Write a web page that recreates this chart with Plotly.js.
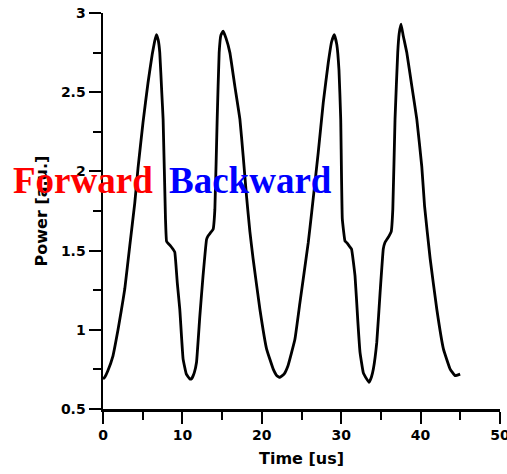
<!DOCTYPE html>
<html>
<head>
<meta charset="utf-8">
<script src="https://cdn.plot.ly/plotly-3.0.1.min.js"></script>
<style>
  html, body { margin: 0; padding: 0; background: #fff; }
  #chart { width: 507px; height: 474px; overflow: hidden; }
</style>
</head>
<body>
<div id="chart"></div>
<script>
// Measured optical power trace over time
const timeUs = [
  0, 0.21, 0.6, 1.26, 1.89, 2.3, 2.74, 3.37, 4.0, 4.41, 5.04, 5.67, 6.2, 6.5, 6.73, 6.95,
  7.15, 7.4, 7.57, 7.87, 8.0, 8.2, 8.5, 8.8, 9.04, 9.35, 9.67, 10.09, 10.5, 10.93, 11.15,
  11.5, 11.78, 12.2, 12.6, 13.04, 13.2, 13.5, 13.87, 14.09, 14.38, 14.63, 14.85, 15.13,
  15.5, 15.98, 16.6, 17.24, 17.65, 18.08, 18.5, 18.9, 19.76, 20.6, 21.44, 21.9, 22.28, 22.8,
  23.3, 24.17, 24.8, 25.85, 26.28, 27.11, 27.74, 28.37, 28.8, 29.13, 29.45, 29.72, 29.94,
  30.14, 30.48, 30.7, 31.0, 31.3, 31.74, 32.1, 32.37, 32.78, 33.2, 33.5, 33.8, 34.05,
  34.48, 34.9, 35.3, 35.5, 36.0, 36.3, 36.5, 36.78, 37.12, 37.3, 37.54, 37.8, 38.26,
  38.89, 39.52, 40.15, 40.5, 41.2, 42.04, 42.88, 43.72, 44.35, 44.98
];
const powerAu = [
  0.69, 0.70, 0.74, 0.836, 1.0, 1.12, 1.257, 1.53, 1.80, 2.02, 2.31, 2.56, 2.74, 2.82, 2.864, 2.83,
  2.75, 2.5, 2.33, 1.70, 1.56, 1.545, 1.53, 1.51, 1.49, 1.30, 1.13, 0.815, 0.72, 0.69, 0.69,
  0.73, 0.795, 1.09, 1.34, 1.57, 1.59, 1.61, 1.635, 1.76, 2.33, 2.75, 2.86, 2.885,
  2.84, 2.75, 2.54, 2.33, 2.10, 1.84, 1.62, 1.45, 1.13, 0.88, 0.752, 0.71, 0.70, 0.72,
  0.773, 0.94, 1.17, 1.55, 1.74, 2.12, 2.434, 2.686, 2.82, 2.864, 2.80, 2.64, 2.33,
  1.70, 1.56, 1.55, 1.53, 1.51, 1.34, 1.05, 0.857, 0.73, 0.69, 0.668, 0.70, 0.752,
  0.92, 1.236, 1.51, 1.55, 1.59, 1.62, 1.76, 2.33, 2.75, 2.87, 2.93, 2.86, 2.75,
  2.54, 2.33, 2.03, 1.78, 1.45, 1.13, 0.878, 0.752, 0.71, 0.72
];

const xTickVals = [0, 10, 20, 30, 40, 50];
const yTickVals = [0.5, 1, 1.5, 2, 2.5, 3];
const yTickText = ['0.5', '1', '1.5', '2', '2.5', '3'];

const xTitle = 'Time [us]';
const yTitle = 'Power [a.u.]';
const forwardLabel = 'Forward';
const backwardLabel = 'Backward';

const tickFont = { family: 'DejaVu Sans, Arial, sans-serif', size: 14, color: '#000', weight: 'bold' };
const titleFont = { family: 'DejaVu Sans, Arial, sans-serif', size: 16, color: '#000', weight: 'bold' };
const tagFont = { family: 'Liberation Serif, Times New Roman, serif', size: 37, weight: 'bold' };

const trace = {
  x: timeUs,
  y: powerAu,
  type: 'scatter',
  mode: 'lines',
  line: { color: '#000', width: 2.8, shape: 'spline', smoothing: 0.3 },
  hoverinfo: 'skip'
};

const axisCommon = {
  showline: true,
  linecolor: '#000',
  linewidth: 2.5,
  ticks: 'outside',
  ticklen: 12,
  tickwidth: 2,
  tickcolor: '#000',
  showgrid: false,
  zeroline: false,
  mirror: false,
  ticklabeloverflow: 'allow',
  tickfont: tickFont
};

const layout = {
  width: 507,
  height: 474,
  margin: { l: 103, r: 7, t: 13, b: 65 },
  paper_bgcolor: '#fff',
  plot_bgcolor: '#fff',
  showlegend: false,
  xaxis: Object.assign({}, axisCommon, {
    range: [0, 50],
    tickvals: xTickVals,
    minor: { tickvals: [5, 15, 25, 35, 45], ticks: 'outside', ticklen: 8, tickwidth: 2, tickcolor: '#000' },
    title: { text: xTitle, font: titleFont, standoff: 11 }
  }),
  yaxis: Object.assign({}, axisCommon, {
    range: [0.5, 3],
    tickvals: yTickVals,
    ticktext: yTickText,
    minor: { tickvals: [0.75, 1.25, 1.75, 2.25, 2.75], ticks: 'outside', ticklen: 8, tickwidth: 2, tickcolor: '#000' },
    title: { text: yTitle, font: titleFont, standoff: 10 }
  }),
  annotations: [
    {
      text: forwardLabel, xref: 'paper', yref: 'paper',
      x: -0.232, y: 0.578, xanchor: 'left', yanchor: 'middle',
      showarrow: false, font: Object.assign({}, tagFont, { color: '#ff0000' })
    },
    {
      text: backwardLabel, xref: 'paper', yref: 'paper',
      x: 0.161, y: 0.578, xanchor: 'left', yanchor: 'middle',
      showarrow: false, font: Object.assign({}, tagFont, { color: '#0000ff' })
    }
  ]
};

Plotly.newPlot('chart', [trace], layout, { displayModeBar: false, staticPlot: true });
</script>
</body>
</html>
